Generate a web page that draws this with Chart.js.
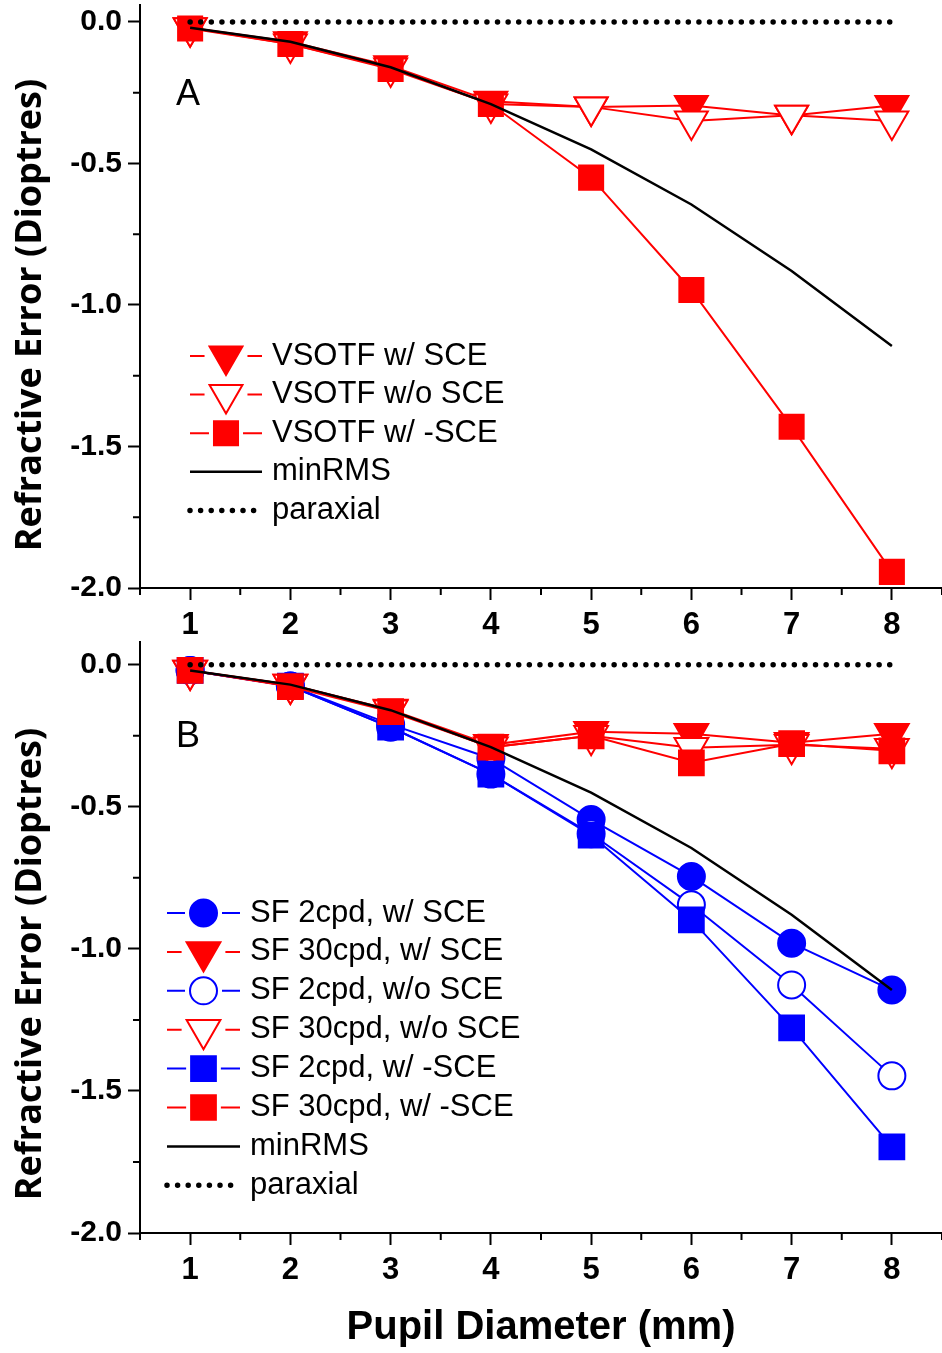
<!DOCTYPE html>
<html>
<head>
<meta charset="utf-8">
<script src="https://cdn.jsdelivr.net/npm/chart.js@4.4.1/dist/chart.umd.min.js"></script>
<style>
  body { margin: 0; background: #fff; }
  .panel { position: absolute; left: 0; }
  #panel-a { top: 0; }
  #panel-b { top: 637px; }
</style>
</head>
<body>
<canvas id="panel-a" class="panel" width="942" height="645"></canvas>
<canvas id="panel-b" class="panel" width="942" height="716"></canvas>
<script>
// shared x values + reference curves
const pupilDiameter = [1, 2, 3, 4, 5, 6, 7, 8];
const paraxial = [0, 0, 0, 0, 0, 0, 0, 0];
const minRMS = [-0.02, -0.07, -0.16, -0.29, -0.45, -0.645, -0.88, -1.145];

// panel A
const vsotfSCE = [-0.02, -0.07, -0.155, -0.28, -0.30, -0.295, -0.33, -0.295];
const vsotfNoSCE = [-0.02, -0.078, -0.163, -0.29, -0.30, -0.35, -0.33, -0.35];
const vsotfNegSCE = [-0.023, -0.078, -0.166, -0.29, -0.55, -0.947, -1.43, -1.943];

// panel B
const sf2SCE = [-0.02, -0.075, -0.21, -0.33, -0.545, -0.745, -0.98, -1.145];
const sf30SCE = [-0.02, -0.07, -0.158, -0.282, -0.236, -0.243, -0.275, -0.243];
const sf2NoSCE = [-0.02, -0.075, -0.22, -0.385, -0.595, -0.845, -1.127, -1.447];
const sf30NoSCE = [-0.02, -0.07, -0.16, -0.29, -0.25, -0.292, -0.282, -0.296];
const sf2NegSCE = [-0.02, -0.075, -0.22, -0.385, -0.60, -0.898, -1.278, -1.697];
const sf30NegSCE = [-0.02, -0.077, -0.165, -0.29, -0.25, -0.345, -0.278, -0.303];

// ticks
const xTickValues = [1, 2, 3, 4, 5, 6, 7, 8];
const xTickLabels = ['1', '2', '3', '4', '5', '6', '7', '8'];
const xMinorTicks = [0.5, 1.5, 2.5, 3.5, 4.5, 5.5, 6.5, 7.5, 8.5];
const yTickValues = [0, -0.5, -1, -1.5, -2];
const yTickLabels = ['0.0', '-0.5', '-1.0', '-1.5', '-2.0'];
const yMinorTicks = [-0.25, -0.75, -1.25, -1.75];

const Y_TITLE = 'Refractive Error (Dioptres)';
const X_TITLE = 'Pupil Diameter (mm)';
const RED = '#ff0000';
const BLUE = '#0000ff';

function pts(values) {
  return values.map((v, i) => ({ x: pupilDiameter[i], y: v }));
}

function markerSeries(label, values, color, shape, filled, radius, order) {
  return {
    label: label,
    data: pts(values),
    order: order,
    borderColor: color,
    borderWidth: 2,
    pointStyle: shape,
    pointRotation: shape === 'triangle' ? 180 : 0,
    pointRadius: radius,
    pointBackgroundColor: filled ? color : '#fff',
    pointBorderColor: color,
    pointBorderWidth: 2,
    clip: false
  };
}

function referenceSeries() {
  return [
    {
      label: 'minRMS', data: pts(minRMS), order: 1,
      borderColor: '#000', borderWidth: 2.5, pointRadius: 0, clip: false
    },
    {
      label: 'paraxial', data: pts(paraxial), order: 0,
      borderColor: '#000', borderWidth: 5.5, borderDash: [0, 10.6],
      borderCapStyle: 'round', pointRadius: 0, clip: false
    }
  ];
}

function drawMarker(ctx, ds, x, y) {
  const r = ds.pointRadius;
  ctx.beginPath();
  if (ds.pointStyle === 'circle') {
    ctx.arc(x, y, r, 0, Math.PI * 2);
  } else if (ds.pointStyle === 'rect') {
    const s = r * Math.SQRT1_2;
    ctx.rect(x - s, y - s, 2 * s, 2 * s);
  } else {
    let a = ds.pointRotation * Math.PI / 180;
    for (let i = 0; i < 3; i++) {
      const px = x + Math.sin(a) * r;
      const py = y - Math.cos(a) * r;
      if (i) ctx.lineTo(px, py); else ctx.moveTo(px, py);
      a += 2 * Math.PI / 3;
    }
    ctx.closePath();
  }
  ctx.fillStyle = ds.pointBackgroundColor;
  ctx.fill();
  ctx.lineWidth = ds.pointBorderWidth;
  ctx.strokeStyle = ds.pointBorderColor;
  ctx.stroke();
}

// half-width of a legend symbol, to leave a gap in its line
function symbolHalf(ds) {
  if (ds.pointStyle === 'circle') return ds.pointRadius + 1;
  if (ds.pointStyle === 'rect') return ds.pointRadius * Math.SQRT1_2 + 1;
  return ds.pointRadius * 0.866 + 1;
}

// minor ticks, y title, panel letter, legend
const panelDecor = {
  id: 'panelDecor',
  afterDraw(chart, args, opts) {
    const ctx = chart.ctx;
    const xs = chart.scales.x;
    const ys = chart.scales.y;
    ctx.save();
    ctx.strokeStyle = '#000';
    ctx.lineWidth = 2;
    ctx.beginPath();
    xMinorTicks.forEach(v => {
      const px = xs.getPixelForValue(v);
      ctx.moveTo(px, xs.top);
      ctx.lineTo(px, xs.top + 7);
    });
    yMinorTicks.forEach(v => {
      const py = ys.getPixelForValue(v);
      ctx.moveTo(ys.right, py);
      ctx.lineTo(ys.right - 7, py);
    });
    ctx.stroke();

    ctx.fillStyle = '#000';
    ctx.textAlign = 'center';
    ctx.textBaseline = 'middle';
    ctx.save();
    ctx.translate(opts.yTitleX, opts.yTitleY);
    ctx.rotate(-Math.PI / 2);
    ctx.font = 'bold 36px "Open Sans"';
    ctx.fillText(Y_TITLE, 0, 0);
    ctx.restore();

    ctx.font = '36px "Liberation Sans"';
    ctx.fillText(opts.letter, opts.letterX, opts.letterY);

    const L = opts.legend;
    chart.data.datasets.forEach((ds, i) => {
      const y = L.y + i * L.row;
      const cx = L.x + L.len / 2;
      ctx.save();
      ctx.strokeStyle = ds.borderColor;
      ctx.lineWidth = ds.borderWidth;
      ctx.lineCap = ds.borderCapStyle || 'butt';
      ctx.setLineDash(ds.borderDash || []);
      ctx.beginPath();
      if (ds.pointRadius) {
        const h = symbolHalf(ds) + 4;
        ctx.moveTo(L.x, y);
        ctx.lineTo(cx - h, y);
        ctx.moveTo(cx + h, y);
        ctx.lineTo(L.x + L.len, y);
      } else {
        ctx.moveTo(L.x, y);
        ctx.lineTo(L.x + L.len, y);
      }
      ctx.stroke();
      ctx.restore();
      if (ds.pointRadius) drawMarker(ctx, ds, cx, y);
      ctx.fillStyle = '#000';
      ctx.textAlign = 'left';
      ctx.font = '31px "Liberation Sans"';
      ctx.fillText(ds.label, L.x + L.len + 10, y);
    });
    ctx.restore();
  }
};

// keep chart area fixed: no extra room for edge labels
function noPadding(s) {
  s.paddingTop = 0;
  s.paddingBottom = 0;
  s.paddingLeft = 0;
  s.paddingRight = 0;
}

function scalesFor(ymax, xAxisHeight, withTitle) {
  return {
    x: {
      type: 'linear', min: 0.5, max: 8.5,
      afterBuildTicks: s => { s.ticks = xTickValues.map(v => ({ value: v })); },
      afterFit: s => { s.height = xAxisHeight; noPadding(s); },
      grid: { drawOnChartArea: false, tickLength: 12, tickWidth: 2, tickColor: '#000' },
      border: { display: true, color: '#000', width: 2 },
      ticks: {
        color: '#000', padding: 7, maxRotation: 0, autoSkip: false,
        font: { family: 'Liberation Sans', weight: 'bold', size: 31 },
        callback: v => xTickLabels[xTickValues.indexOf(v)]
      },
      title: {
        display: withTitle, text: X_TITLE, color: '#000',
        font: { family: 'Liberation Sans', weight: 'bold', size: 40 },
        padding: { top: 0, bottom: 1 }
      }
    },
    y: {
      type: 'linear', min: -2, max: ymax,
      afterBuildTicks: s => { s.ticks = yTickValues.map(v => ({ value: v })); },
      afterFit: s => { s.width = 140; noPadding(s); },
      grid: { drawOnChartArea: false, tickLength: 12, tickWidth: 2, tickColor: '#000' },
      border: { display: true, color: '#000', width: 2 },
      ticks: {
        color: '#000', padding: 6,
        font: { family: 'Liberation Sans', weight: 'bold', size: 30 },
        callback: v => yTickLabels[yTickValues.indexOf(v)]
      }
    }
  };
}

function setupPanelA() {
  const datasets = [
    markerSeries('VSOTF w/ SCE', vsotfSCE, RED, 'triangle', true, 19, 4),
    markerSeries('VSOTF w/o SCE', vsotfNoSCE, RED, 'triangle', false, 19, 3),
    markerSeries('VSOTF w/ -SCE', vsotfNegSCE, RED, 'rect', true, 17, 2)
  ].concat(referenceSeries());

  new Chart(document.getElementById('panel-a'), {
    type: 'line',
    data: { datasets: datasets },
    plugins: [panelDecor],
    options: {
      responsive: false, animation: false, events: [],
      layout: { autoPadding: false, padding: { top: 5, left: 0, right: 0, bottom: 0 } },
      scales: scalesFor(0.06, 57, false),
      plugins: {
        legend: { display: false },
        tooltip: { enabled: false },
        panelDecor: {
          yTitleX: 31, yTitleY: 315,
          letter: 'A', letterX: 188, letterY: 95,
          legend: { x: 190, y: 356, row: 38.6, len: 72 }
        }
      }
    }
  });
}

function setupPanelB() {
  const datasets = [
    markerSeries('SF 2cpd, w/ SCE', sf2SCE, BLUE, 'circle', true, 13.5, 7),
    markerSeries('SF 30cpd, w/ SCE', sf30SCE, RED, 'triangle', true, 19.5, 6),
    markerSeries('SF 2cpd, w/o SCE', sf2NoSCE, BLUE, 'circle', false, 13.5, 5),
    markerSeries('SF 30cpd, w/o SCE', sf30NoSCE, RED, 'triangle', false, 19.5, 4),
    markerSeries('SF 2cpd, w/ -SCE', sf2NegSCE, BLUE, 'rect', true, 17.5, 3),
    markerSeries('SF 30cpd, w/ -SCE', sf30NegSCE, RED, 'rect', true, 17.5, 2)
  ].concat(referenceSeries());

  new Chart(document.getElementById('panel-b'), {
    type: 'line',
    data: { datasets: datasets },
    plugins: [panelDecor],
    options: {
      responsive: false, animation: false, events: [],
      layout: { autoPadding: false, padding: { top: 5, left: 0, right: 0, bottom: 0 } },
      scales: scalesFor(0.08, 120, true),
      plugins: {
        legend: { display: false },
        tooltip: { enabled: false },
        panelDecor: {
          yTitleX: 31, yTitleY: 327,
          letter: 'B', letterX: 188, letterY: 100,
          legend: { x: 167, y: 276, row: 38.9, len: 73 }
        }
      }
    }
  });
}

setupPanelA();
setupPanelB();
</script>
</body>
</html>
